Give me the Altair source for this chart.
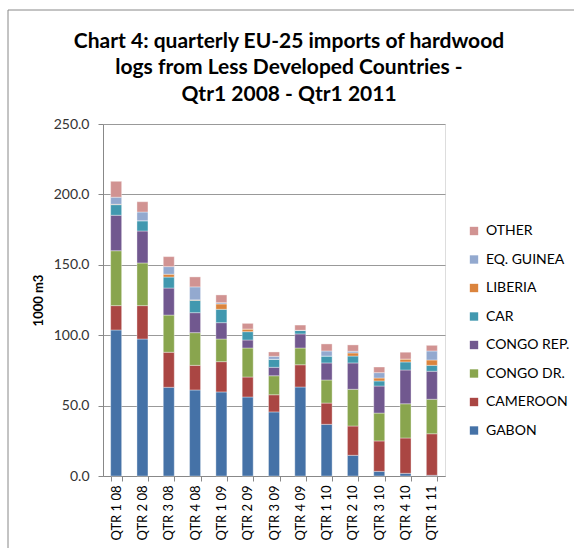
import altair as alt
import pandas as pd

quarters = ["QTR 1 08", "QTR 2 08", "QTR 3 08", "QTR 4 08", "QTR 1 09", "QTR 2 09",
            "QTR 3 09", "QTR 4 09", "QTR 1 10", "QTR 2 10", "QTR 3 10", "QTR 4 10", "QTR 1 11"]

gabon     = [103.7, 97.3, 63.0, 61.1, 59.7, 56.1, 45.5, 63.2, 36.7, 14.7, 3.3, 1.9, 0.5]
cameroon  = [17.3, 23.7, 24.9, 17.5, 21.5, 14.2, 12.2, 15.8, 15.1, 20.8, 21.6, 25.1, 29.5]
congo_dr  = [39.0, 30.3, 26.4, 23.2, 16.1, 20.6, 13.5, 11.9, 16.4, 26.1, 19.8, 24.3, 24.5]
congo_rep = [25.2, 22.7, 19.2, 14.2, 11.6, 5.7, 6.0, 10.0, 12.1, 18.7, 19.2, 24.0, 19.9]
car       = [7.5, 7.3, 7.8, 8.8, 9.5, 5.9, 5.7, 2.6, 4.9, 4.9, 3.6, 5.7, 4.2]
liberia   = [0.3, 0.0, 2.0, 0.3, 3.8, 1.9, 0.0, 0.0, 0.0, 2.2, 2.1, 2.1, 3.8]
eq_guinea = [5.0, 6.2, 5.4, 9.2, 0.9, 0.0, 2.1, 0.0, 3.6, 1.2, 3.8, 0.0, 6.4]
other     = [11.3, 7.3, 7.1, 7.1, 5.5, 4.0, 3.1, 3.7, 5.0, 4.5, 4.0, 4.8, 4.0]

series_names = ["GABON", "CAMEROON", "CONGO DR.", "CONGO REP.", "CAR", "LIBERIA", "EQ. GUINEA", "OTHER"]
series_values = [gabon, cameroon, congo_dr, congo_rep, car, liberia, eq_guinea, other]
series_colors = ["#4572A7", "#AA4643", "#89A54E", "#71588F", "#4198AF", "#DB843D", "#93A9CF", "#D19392"]

rows = []
for si, (name, vals) in enumerate(zip(series_names, series_values)):
    for q, v in zip(quarters, vals):
        rows.append({"quarter": q, "country": name, "value": v, "order": si})
df = pd.DataFrame(rows)

legend_domain = list(reversed(series_names))
legend_colors = list(reversed(series_colors))

font = "Lato"

bars = alt.Chart(df).mark_bar(size=11, stroke="white", strokeWidth=0.6, strokeOpacity=0.6).encode(
    x=alt.X("quarter:N", sort=quarters, title=None,
            scale=alt.Scale(paddingInner=0.58, paddingOuter=0.29),
            axis=alt.Axis(labelAngle=-90, labelAlign="right", labelBaseline="middle",
                          labelFontSize=13, labelColor="#000000", labelFont=font, labelPadding=4,
                          tickBand="extent", tickSize=5, tickColor="#888888",
                          domainColor="#888888", grid=False)),
    y=alt.Y("value:Q", title="1000 m3",
            scale=alt.Scale(domain=[0, 250], nice=False),
            axis=alt.Axis(values=[0, 50, 100, 150, 200, 250], format=".1f",
                          labelFontSize=14, labelColor="#333333", labelFont=font,
                          labelPadding=9, tickSize=5, tickColor="#888888",
                          domainColor="#888888", gridColor="#999999", gridWidth=1,
                          titleFont=font, titleFontSize=13, titleFontWeight="bold",
                          titleColor="#000000", titlePadding=8)),
    color=alt.Color("country:N",
                    scale=alt.Scale(domain=legend_domain, range=legend_colors),
                    legend=alt.Legend(title=None, orient="none", legendX=364, legendY=100,
                                      symbolType="square", symbolSize=70, symbolStrokeWidth=0,
                                      labelFontSize=14, labelFont=font, labelColor="#000000",
                                      rowPadding=14.5, labelOffset=5)),
    order=alt.Order("order:Q", sort="ascending"),
)

# outer chart frame (left and top edges visible in the reference)
frame_src = pd.DataFrame({"k": [0]})
frame_left = alt.Chart(frame_src).mark_rule(color="#888888", strokeWidth=1).encode(
    x=alt.value(-95), y=alt.value(-114), y2=alt.value(480))
frame_top = alt.Chart(frame_src).mark_rule(color="#888888", strokeWidth=1).encode(
    x=alt.value(-95), x2=alt.value(480), y=alt.value(-114))

chart = alt.layer(bars, frame_left, frame_top).properties(
    width=342,
    height=352,
    title=alt.TitleParams(
        ["Chart 4: quarterly EU-25 imports of hardwood",
         "logs from Less Developed Countries -",
         "Qtr1 2008 - Qtr1 2011"],
        font=font, fontSize=21, fontWeight="bold", color="#000000",
        anchor="middle", frame="group", dx=15, offset=-95, lineHeight=26.5),
    autosize=alt.AutoSizeParams(type="none"),
    padding={"left": 103, "top": 124, "right": 129, "bottom": 72},
).configure_view(stroke=None).configure(background="white")

chart.save("out.html", embed_options={"renderer": "svg", "actions": False})
